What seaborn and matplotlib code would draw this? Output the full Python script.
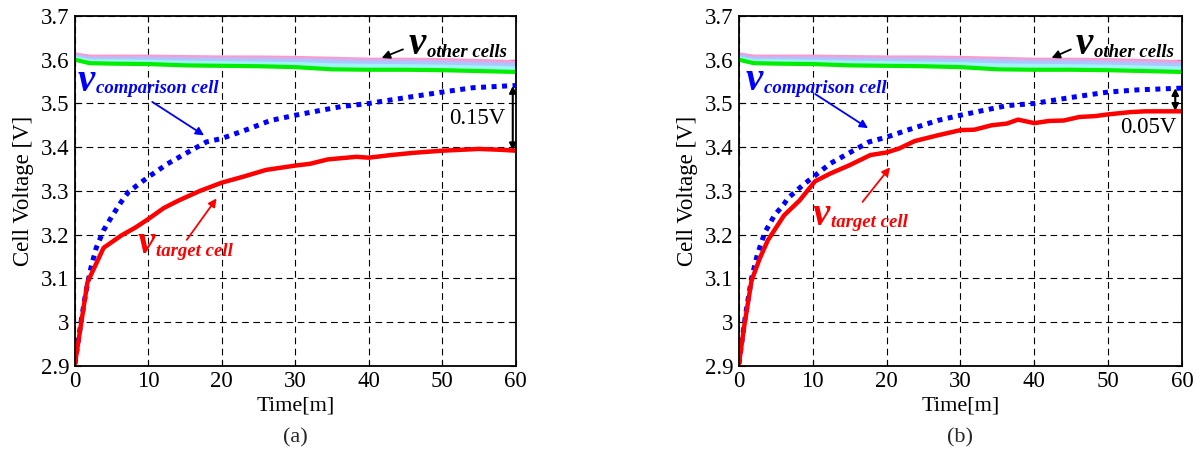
import numpy as np
import pandas as pd
import seaborn as sns
import matplotlib.pyplot as plt
from matplotlib.ticker import FuncFormatter

# other cells (same band in both panels)
t_other = [0, 2, 5, 10, 15, 20, 25, 30, 35, 40, 45, 50, 55, 60]
other_pink = [3.612, 3.607, 3.607, 3.607, 3.606, 3.605, 3.605, 3.604, 3.602, 3.600, 3.600, 3.599, 3.597, 3.594]
other_lav = [3.609, 3.603, 3.603, 3.603, 3.602, 3.601, 3.601, 3.600, 3.598, 3.596, 3.596, 3.594, 3.592, 3.590]
other_blue = [3.606, 3.600, 3.600, 3.600, 3.598, 3.598, 3.597, 3.596, 3.594, 3.592, 3.592, 3.590, 3.588, 3.586]
other_cyan = [3.603, 3.596, 3.596, 3.595, 3.593, 3.592, 3.591, 3.590, 3.587, 3.586, 3.585, 3.584, 3.582, 3.580]
other_green = [3.600, 3.592, 3.591, 3.590, 3.587, 3.586, 3.585, 3.583, 3.578, 3.577, 3.577, 3.576, 3.574, 3.572]

# panel (a)
t_target_a = [0, 1.7, 3.9, 6.3, 8.3, 10, 12.1, 14.1, 17, 20, 23, 26, 30, 32, 34.4, 38.3, 40, 43, 46, 50, 55, 58, 60]
v_target_a = [2.905, 3.091, 3.17, 3.198, 3.217, 3.236, 3.261, 3.278, 3.30, 3.319, 3.333, 3.348, 3.358, 3.362,
              3.372, 3.378, 3.376, 3.382, 3.387, 3.392, 3.396, 3.394, 3.392]
t_comp_a = [0, 0.8, 1.5, 2.2, 2.9, 3.9, 5.1, 6.3, 7.3, 10, 12.6, 15, 17.9, 20, 23.7, 26.6, 30, 33.4, 36.3, 40,
            43, 46.9, 50, 54.2, 60]
v_comp_a = [2.905, 2.998, 3.07, 3.126, 3.17, 3.21, 3.244, 3.275, 3.298, 3.332, 3.362, 3.385, 3.412, 3.42, 3.442,
            3.461, 3.473, 3.484, 3.493, 3.50, 3.508, 3.518, 3.526, 3.536, 3.541]

# panel (b)
t_target_b = [0, 0.7, 1.7, 2.8, 3.9, 6.1, 8.2, 10.3, 12.4, 15, 17.8, 20, 21.7, 23.8, 26.9, 30, 31.9, 34.2, 36.3,
              37.8, 40, 42, 44, 46.1, 48.2, 50, 52.9, 55, 60]
v_target_b = [2.905, 2.99, 3.095, 3.145, 3.187, 3.244, 3.278, 3.322, 3.34, 3.359, 3.382, 3.388, 3.397, 3.414,
              3.427, 3.439, 3.44, 3.45, 3.454, 3.463, 3.455, 3.46, 3.461, 3.469, 3.471, 3.475, 3.48, 3.482, 3.482]
t_comp_b = [0, 0.4, 0.9, 1.7, 2.5, 3.5, 4.8, 6.1, 6.6, 8.7, 12.4, 17.6, 20, 22.8, 26.9, 30, 33.1, 36.3, 40, 43.6,
            46.7, 50, 54, 60]
v_comp_b = [2.905, 2.957, 3.018, 3.10, 3.155, 3.205, 3.244, 3.27, 3.283, 3.314, 3.363, 3.412, 3.423, 3.439, 3.461,
            3.473, 3.484, 3.495, 3.50, 3.51, 3.518, 3.526, 3.531, 3.535]

xticks = [0, 10, 20, 30, 40, 50, 60]
yticks = [2.9, 3.0, 3.1, 3.2, 3.3, 3.4, 3.5, 3.6, 3.7]

sns.set_theme(style="white")
plt.rcParams['font.family'] = ['Liberation Serif', 'DejaVu Serif']

fig = plt.figure(figsize=(12.01, 4.49), dpi=100)
ax_a = fig.add_axes([0.0624, 0.185, 0.367, 0.7795])
ax_b = fig.add_axes([0.6153, 0.185, 0.3688, 0.7795])

other_colors = ['#ff99cc', '#c8b4f4', '#a8c8ff', '#9ff5f5', '#00ee00']
other_series = [other_pink, other_lav, other_blue, other_cyan, other_green]


def vlabel(ax, x, y, sub, color):
    vt = ax.text(x, y, 'v', fontsize=28, fontweight='bold', fontstyle='italic',
                 color=color, va='baseline', ha='left')
    ax.annotate(sub, xy=(1, 0), xycoords=vt, xytext=(1, 2), textcoords='offset points',
                fontsize=13.5, fontweight='bold', fontstyle='italic', color=color,
                va='bottom', ha='left')


def draw_panel(ax, t_tg, v_tg, t_cp, v_cp, lab):
    for s, c in zip(other_series, other_colors):
        sns.lineplot(x=t_other, y=s, ax=ax, color=c, lw=3.0, zorder=3)
    sns.lineplot(x=t_cp, y=v_cp, ax=ax, color='#0000ff', lw=3.6, zorder=4,
                 linestyle=(0, (1, 1.1)), dash_capstyle='butt')
    sns.lineplot(x=t_tg, y=v_tg, ax=ax, color='#ff0000', lw=3.2, zorder=5)

    ax.set_xlim(0, 60)
    ax.set_ylim(2.9, 3.7)
    ax.set_xticks(xticks)
    ax.set_yticks(yticks)
    ax.yaxis.set_major_formatter(FuncFormatter(lambda v, p: '%g' % round(v, 1)))
    ax.grid(True, color='black', linestyle=(0, (6, 4)), lw=0.8)
    ax.tick_params(direction='in', length=4, width=0.8, labelsize=16.5, colors='black',
                   top=True, right=True, bottom=True, left=True, pad=4)
    ax.tick_params(axis='x', pad=4)
    for sp in ax.spines.values():
        sp.set_color('black')
        sp.set_linewidth(1.3)
        sp.set_zorder(6)
    ax.set_xlabel('Time[m]', fontsize=16, labelpad=3, color='black')
    ax.set_ylabel('Cell Voltage [V]', fontsize=16.5, labelpad=5, color='black')
    pos = ax.get_position()
    fig.text((pos.x0 + pos.x1) / 2, 0.004, lab, fontsize=16, ha='center', va='bottom')


draw_panel(ax_a, t_target_a, v_target_a, t_comp_a, v_comp_a, '(a)')
draw_panel(ax_b, t_target_b, v_target_b, t_comp_b, v_comp_b, '(b)')

# annotations panel (a)
vlabel(ax_a, 0.3, 3.528, 'comparison cell', '#0000ff')
ax_a.annotate('', xy=(17.9, 3.4235), xytext=(10.2, 3.507),
              arrowprops=dict(arrowstyle='-|>', color='#0000ff', lw=1.3, mutation_scale=12))
vlabel(ax_a, 45.4, 3.612, 'other cells', 'black')
ax_a.annotate('', xy=(41.4, 3.6015), xytext=(45.0, 3.626),
              arrowprops=dict(arrowstyle='-|>', color='black', lw=1.3, mutation_scale=12))
ax_a.text(54.8, 3.465, '0.15V', fontsize=16.5, ha='center', va='center', color='black')
ax_a.annotate('', xy=(59.6, 3.393), xytext=(59.6, 3.540),
              arrowprops=dict(arrowstyle='<|-|>', color='black', lw=1.5, mutation_scale=10,
                              shrinkA=0, shrinkB=0))
vlabel(ax_a, 8.5, 3.157, 'target cell', '#ff0000')
ax_a.annotate('', xy=(19.5, 3.288), xytext=(15.0, 3.183),
              arrowprops=dict(arrowstyle='-|>', color='#ff0000', lw=1.3, mutation_scale=12))

# annotations panel (b)
vlabel(ax_b, 0.9, 3.530, 'comparison cell', '#0000ff')
ax_b.annotate('', xy=(17.8, 3.44), xytext=(10.0, 3.525),
              arrowprops=dict(arrowstyle='-|>', color='#0000ff', lw=1.3, mutation_scale=12))
vlabel(ax_b, 45.6, 3.612, 'other cells', 'black')
ax_b.annotate('', xy=(42.0, 3.6015), xytext=(45.3, 3.626),
              arrowprops=dict(arrowstyle='-|>', color='black', lw=1.3, mutation_scale=12))
ax_b.text(55.5, 3.444, '0.05V', fontsize=16.5, ha='center', va='center', color='black')
ax_b.annotate('', xy=(59.1, 3.483), xytext=(59.1, 3.535),
              arrowprops=dict(arrowstyle='<|-|>', color='black', lw=1.5, mutation_scale=10,
                              shrinkA=0, shrinkB=0))
vlabel(ax_b, 10.0, 3.222, 'target cell', '#ff0000')
ax_b.annotate('', xy=(20.7, 3.359), xytext=(16.5, 3.27),
              arrowprops=dict(arrowstyle='-|>', color='#ff0000', lw=1.3, mutation_scale=12))

fig.savefig('out.png', dpi=100)
